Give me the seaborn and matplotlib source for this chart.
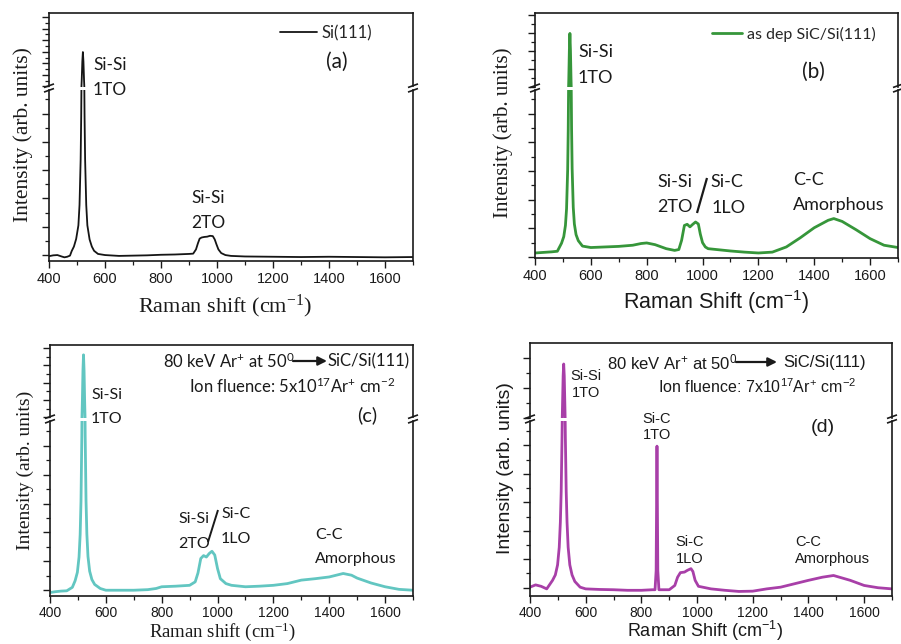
import matplotlib
matplotlib.use("Agg")
import matplotlib.pyplot as plt
import seaborn as sns
from matplotlib.lines import Line2D
from matplotlib.ticker import MultipleLocator

W, H, DPI = 901, 644, 100

# ---------------- Raman spectra (shift in cm^-1, intensity in arb. units) ----------------
shift_a = [400, 415, 430, 445, 455, 465, 475, 481, 489, 497, 505, 509, 513, 515, 517, 519, 521, 523, 525, 527,
           529, 533, 537, 545, 553, 561, 575, 600, 650, 700, 750, 800, 850, 900, 915, 925, 932, 938, 945, 955,
           965, 975, 985, 992, 998, 1005, 1015, 1030, 1050, 1100, 1200, 1300, 1400, 1500, 1600, 1700]
inten_a = [-0.04, -0.01, 0.0, -0.05, -0.08, -0.06, -0.02, 0.14, 0.3, 0.57, 1.05, 1.77, 3.36, 4.9, 7.3, 10.3, 11.95, 10.3, 7.3, 4.9,
           3.36, 1.77, 1.05, 0.55, 0.3, 0.15, 0.04, 0.0, -0.03, -0.02, -0.01, 0.01, 0.02, 0.04, 0.05, 0.2, 0.42, 0.58, 0.62, 0.64,
           0.65, 0.68, 0.67, 0.55, 0.38, 0.2, 0.07, 0.0, -0.03, -0.05, -0.06, -0.07, -0.06, -0.07, -0.08, -0.07]

shift_b = [400, 430, 460, 480, 495, 503, 509, 513, 517, 519, 521, 523, 525, 527, 529, 531, 533, 537, 541, 547,
           555, 570, 600, 650, 700, 750, 780, 800, 830, 870, 900, 915, 925, 935, 945, 955, 965, 975, 985, 992,
           1000, 1010, 1020, 1050, 1100, 1150, 1200, 1250, 1300, 1350, 1400, 1450, 1470, 1500, 1550, 1600, 1650, 1700]
inten_b = [0.14, 0.16, 0.18, 0.2, 0.48, 0.71, 1.1, 1.68, 3.05, 4.44, 6.76, 9.98, 11.9, 9.98, 6.78, 4.47, 3.09, 1.73, 1.15, 0.78,
           0.57, 0.38, 0.33, 0.35, 0.37, 0.41, 0.47, 0.49, 0.43, 0.29, 0.23, 0.26, 0.58, 1.1, 1.14, 1.05, 1.14, 1.22, 1.15, 0.8,
           0.5, 0.35, 0.29, 0.26, 0.21, 0.17, 0.14, 0.17, 0.35, 0.67, 1.02, 1.28, 1.34, 1.24, 0.95, 0.64, 0.41, 0.33]

shift_c = [400, 420, 440, 460, 480, 490, 498, 504, 508, 511, 514, 516, 518, 520, 522, 524, 526, 529, 532, 536,
           542, 550, 560, 580, 600, 650, 700, 750, 780, 800, 850, 900, 920, 930, 940, 950, 960, 970, 980, 990,
           1000, 1010, 1030, 1050, 1100, 1150, 1200, 1250, 1300, 1350, 1400, 1450, 1480, 1500, 1550, 1600, 1650, 1700]
inten_c = [-0.08, -0.05, -0.03, -0.02, 0.1, 0.33, 0.62, 1.15, 1.93, 3.08, 5.35, 8.0, 11.4, 13.2, 11.4, 8.0, 5.35, 3.1, 1.95, 1.17,
           0.66, 0.37, 0.2, 0.06, 0.0, 0.0, 0.0, 0.02, 0.06, 0.12, 0.14, 0.17, 0.29, 0.6, 1.1, 1.2, 1.15, 1.27, 1.35, 1.22,
           0.75, 0.4, 0.23, 0.17, 0.12, 0.14, 0.17, 0.23, 0.35, 0.4, 0.46, 0.58, 0.52, 0.42, 0.25, 0.12, 0.03, 0.0]

shift_d = [400, 420, 440, 460, 481, 491, 499, 505, 509, 512, 515, 517, 519, 521, 523, 525, 527, 530, 533, 537,
           543, 551, 561, 580, 600, 650, 700, 750, 800, 840, 849, 853, 855, 856, 857, 859, 863, 900, 920, 930,
           940, 955, 965, 978, 985, 993, 1005, 1050, 1100, 1150, 1200, 1250, 1300, 1350, 1400, 1450, 1490, 1550, 1600, 1650,
           1700]
inten_d = [0.02, 0.1, 0.05, -0.04, 0.26, 0.45, 0.8, 1.42, 2.3, 3.38, 5.27, 7.03, 8.77, 9.57, 8.77, 7.03, 5.27, 3.38, 2.3, 1.42,
           0.8, 0.45, 0.22, 0.02, -0.04, -0.06, -0.07, -0.09, -0.09, -0.07, -0.07, 0.6, 3.6, 4.97, 3.6, 0.6, -0.07, -0.07, 0.08, 0.37,
           0.53, 0.55, 0.61, 0.67, 0.57, 0.26, 0.05, -0.04, -0.09, -0.13, -0.12, -0.04, 0.02, 0.14, 0.26, 0.37, 0.43, 0.26, 0.08, 0.0,
           -0.04]

x_ticks = [400, 600, 800, 1000, 1200, 1400, 1600]

COL_A, COL_B, COL_C, COL_D = "#151515", "#36963a", "#62c6c1", "#a83fa8"
INK = "#1a1a1a"

sns.set_style("ticks")
plt.rcParams["mathtext.default"] = "regular"

SANS = "Liberation Sans"
SERIF = "Liberation Serif"
LABEL = "Lato"

fig = plt.figure(figsize=(W / DPI, H / DPI), dpi=DPI)
fig.patch.set_facecolor("white")


def fx(px):
    return px / W


def fy(py):
    return 1.0 - py / H


def txt(px, py, s, size, family=LABEL, ha="left", va="center", **kw):
    fig.text(fx(px), fy(py), s, fontsize=size, family=family, ha=ha, va=va, color=INK, **kw)


def seg(p0, p1, lw=1.2, color=INK):
    fig.add_artist(Line2D([fx(p0[0]), fx(p1[0])], [fy(p0[1]), fy(p1[1])],
                          transform=fig.transFigure, lw=lw, color=color, solid_capstyle="butt"))


def arrow(x0, x1, py):
    fig.add_artist(matplotlib.patches.FancyArrowPatch(
        (fx(x0), fy(py)), (fx(x1), fy(py)), transform=fig.transFigure,
        arrowstyle="-|>", mutation_scale=13, lw=1.6, color=INK, shrinkA=0, shrinkB=0))


def panel(x, y, color, lw, box, brk, lo_lim, hi_lim, tick_size=10.5, tick_pad=3):
    """Spectrum on a broken intensity axis: a short upper strip over a taller lower part."""
    left, right, top, bottom = box
    gap = 1.5
    ax_lo = fig.add_axes([fx(left), fy(bottom), (right - left) / W, (bottom - brk - gap) / H])
    ax_hi = fig.add_axes([fx(left), fy(brk - gap), (right - left) / W, (brk - gap - top) / H])
    for ax in (ax_lo, ax_hi):
        sns.lineplot(x=x, y=y, ax=ax, color=color, linewidth=lw, estimator=None,
                     errorbar=None, sort=False, legend=False)
        ax.set_xlim(400, 1700)
        ax.set_xlabel("")
        ax.set_ylabel("")
        ax.set_facecolor("white")
        for s in ax.spines.values():
            s.set_linewidth(1.2)
            s.set_color(INK)
        ax.tick_params(axis="y", which="both", direction="out", left=True, right=False,
                       labelleft=False, color=INK)
        ax.tick_params(axis="y", which="major", length=5, width=1.0)
        ax.tick_params(axis="y", which="minor", length=3, width=0.9)
    ax_lo.set_ylim(*lo_lim)
    ax_hi.set_ylim(*hi_lim)
    ax_lo.yaxis.set_major_locator(MultipleLocator(1))
    ax_lo.yaxis.set_minor_locator(MultipleLocator(0.5))
    ax_hi.yaxis.set_major_locator(MultipleLocator(2))
    ax_hi.yaxis.set_minor_locator(MultipleLocator(1))
    ax_lo.spines["top"].set_visible(False)
    ax_hi.spines["bottom"].set_visible(False)
    ax_hi.tick_params(axis="x", which="both", bottom=False, top=False, labelbottom=False)
    ax_lo.set_xticks(x_ticks)
    ax_lo.set_xticklabels([str(t) for t in x_ticks])
    ax_lo.xaxis.set_minor_locator(MultipleLocator(100))
    ax_lo.tick_params(axis="x", which="both", direction="out", bottom=True, top=False, color=INK)
    ax_lo.tick_params(axis="x", which="major", length=5, width=1.0, labelsize=tick_size, pad=tick_pad,
                      labelfontfamily=SANS, labelcolor=INK)
    ax_lo.tick_params(axis="x", which="minor", length=3, width=0.9)
    # "//" break marks across both side spines
    for sx in (left, right):
        for dy in (-2.3, 2.3):
            seg((sx - 5, brk + dy + 1.8), (sx + 5, brk + dy - 1.8), lw=1.2)
    return ax_lo, ax_hi


# ---------------- (a) bare Si(111) ----------------
lo_a, hi_a = panel(shift_a, inten_a, COL_A, 1.3, (49, 413, 13, 261), 88, (-0.21, 5.85), (6, 18.7))
hi_a.legend([hi_a.lines[0]], ["Si(111)"], loc="center left", bbox_to_anchor=(fx(280), fy(33)),
            bbox_transform=fig.transFigure, frameon=False, handlelength=2.2, handletextpad=0.3,
            borderpad=0, borderaxespad=0, prop={"family": LABEL, "size": 12})
txt(93, 65, "Si-Si", 12.5)
txt(93, 90, "1TO", 12.5)
txt(208, 198, "Si-Si", 12.5, ha="center")
txt(208, 223, "2TO", 12.5, ha="center")
txt(337, 62, "(a)", 15, ha="center")
txt(23, 135, "Intensity (arb. units)", 15.5, family=SERIF, ha="center", rotation=90)
txt(225, 306, "Raman shift (cm$^{-1}$)", 16, family=SERIF, ha="center")

# ---------------- (b) as-deposited SiC/Si(111) ----------------
lo_b, hi_b = panel(shift_b, inten_b, COL_B, 2.0, (535, 898, 13, 258), 88, (-0.035, 5.84), (6, 14.17))
hi_b.legend([hi_b.lines[0]], ["as dep SiC/Si(111)"], loc="center left", bbox_to_anchor=(fx(712), fy(34)),
            bbox_transform=fig.transFigure, frameon=False, handlelength=1.9, handletextpad=0.3,
            borderpad=0, borderaxespad=0, prop={"family": LABEL, "size": 11.5})
txt(578, 52, "Si-Si", 13)
txt(578, 78, "1TO", 13)
txt(657, 182, "Si-Si", 13)
txt(657, 207, "2TO", 13)
seg((697, 213), (707, 178), lw=1.6)
txt(710, 182, "Si-C", 13)
txt(712, 208, "1LO", 13)
txt(793, 180, "C-C", 13)
txt(793, 205, "Amorphous", 13)
txt(813, 72, "(b)", 15, ha="center")
txt(503, 133, "Intensity (arb. units)", 15, family=SERIF, ha="center", rotation=90)
txt(716, 302, "Raman Shift (cm$^{-1}$)", 15.5, family=SANS, ha="center")

# ---------------- (c) 5x10^17 Ar+ cm^-2 ----------------
lo_c, hi_c = panel(shift_c, inten_c, COL_C, 2.0, (50, 413, 345, 596), 419, (-0.2, 5.88), (6, 14.33),
                   tick_size=10, tick_pad=2)
txt(91, 395, "Si-Si", 11.5)
txt(91, 419, "1TO", 11.5)
txt(163, 361, "80 keV Ar$^{+}$ at 50$^{0}$", 12)
arrow(293, 327, 361)
txt(328, 361, "SiC/Si(111)", 12)
txt(189, 386, "Ion fluence: 5x10$^{17}$Ar$^{+}$ cm$^{-2}$", 12)
txt(367, 415, "(c)", 14.5, ha="center")
txt(178, 519, "Si-Si", 11.5)
txt(178, 544, "2TO", 11.5)
seg((208, 542), (218, 510), lw=1.4)
txt(221, 514, "Si-C", 11.5)
txt(221, 539, "1LO", 11.5)
txt(315, 535, "C-C", 11.5)
txt(315, 559, "Amorphous", 11.5)
txt(25, 470, "Intensity (arb. units)", 14, family=SERIF, ha="center", rotation=90)
txt(222, 643, "Raman shift (cm$^{-1}$)", 13.5, family=SERIF, ha="center", va="bottom")

# ---------------- (d) 7x10^17 Ar+ cm^-2 ----------------
lo_d, hi_d = panel(shift_d, inten_d, COL_D, 2.0, (530, 892, 343, 596), 419, (-0.29, 5.87), (6, 10.97),
                   tick_size=10, tick_pad=2)
txt(570, 376, "Si-Si", 10.5, family=SANS)
txt(572, 393, "1TO", 10.5, family=SANS)
txt(657, 419, "Si-C", 10.5, family=SANS, ha="center")
txt(657, 435, "1TO", 10.5, family=SANS, ha="center")
txt(690, 542, "Si-C", 10.5, family=SANS, ha="center")
txt(690, 559, "1LO", 10.5, family=SANS, ha="center")
txt(795, 542, "C-C", 10.5, family=SANS)
txt(795, 559, "Amorphous", 10.5, family=SANS)
txt(823, 427, "(d)", 14, family=SANS, ha="center")
txt(607, 362, "80 keV Ar$^{+}$ at 50$^{0}$", 12, family=SANS)
arrow(736, 777, 362)
txt(783, 362, "SiC/Si(111)", 12, family=SANS)
txt(658, 387, "Ion fluence: 7x10$^{17}$Ar$^{+}$ cm$^{-2}$", 11.5, family=SANS)
txt(505, 468, "Intensity (arb. units)", 14, family=SANS, ha="center", rotation=90)
txt(705, 643, "Raman Shift (cm$^{-1}$)", 13, family=SANS, ha="center", va="bottom")

fig.savefig("out.png", dpi=DPI, facecolor="white")
